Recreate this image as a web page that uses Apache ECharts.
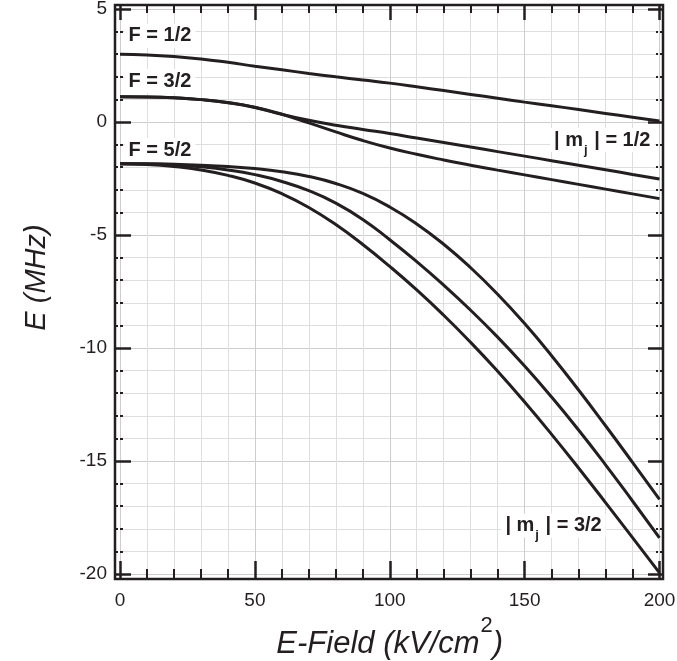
<!DOCTYPE html>
<html><head><meta charset="utf-8">
<script src="https://cdn.jsdelivr.net/npm/echarts@6/dist/echarts.min.js"></script>
<style>html,body{margin:0;padding:0;background:#fff}#c{width:677px;height:661px}</style>
</head><body><div id="c"></div>
<script>
// ---- data ----
const fieldValues = [0,10,20,30,40,50,60,70,80,90,100,110,120,130,140,150,160,170,180,190,200];
const levelF12   = [3.00,2.97,2.90,2.79,2.64,2.47,2.31,2.15,2.00,1.86,1.72,1.56,1.39,1.22,1.05,0.88,0.72,0.55,0.38,0.21,0.04];
const levelF32a  = [1.12,1.11,1.07,0.99,0.85,0.64,0.34,0.08,-0.14,-0.33,-0.51,-0.71,-0.91,-1.11,-1.31,-1.51,-1.71,-1.91,-2.11,-2.32,-2.52];
const levelF32b  = [1.12,1.11,1.07,0.99,0.86,0.65,0.34,-0.04,-0.44,-0.82,-1.15,-1.43,-1.68,-1.91,-2.13,-2.34,-2.55,-2.76,-2.97,-3.18,-3.39];
const levelF52a  = [-1.85,-1.85,-1.87,-1.91,-1.97,-2.06,-2.20,-2.41,-2.72,-3.16,-3.76,-4.51,-5.41,-6.45,-7.62,-8.92,-10.34,-11.86,-13.44,-15.06,-16.70];
const levelF52b  = [-1.85,-1.86,-1.90,-1.98,-2.12,-2.33,-2.63,-3.04,-3.59,-4.31,-5.21,-6.18,-7.22,-8.33,-9.52,-10.80,-12.17,-13.63,-15.17,-16.77,-18.40];
const levelF52c  = [-1.85,-1.88,-1.97,-2.12,-2.36,-2.70,-3.17,-3.78,-4.54,-5.42,-6.39,-7.43,-8.55,-9.75,-11.03,-12.39,-13.82,-15.31,-16.84,-18.39,-19.95];
const xTicks = [0,50,100,150,200];
const yTicks = [-20,-15,-10,-5,0,5];
const annotations = [
  {text:'F = 1/2', x:1.5, y:3.81, side:'right'},
  {text:'F = 3/2', x:1.5, y:1.81, side:'right'},
  {text:'F = 5/2', x:1.5, y:-1.24, side:'right'},
  {text:'| m{sub|j} | = 1/2', x:198.3, y:-0.80, side:'left'},
  {text:'| m{sub|j} | = 3/2', x:141.2, y:-17.85, side:'right'}
];
// ---- chart ----
const INK = '#231f20';
const FONT = '"Liberation Sans", Arial, Helvetica, sans-serif';
const chart = echarts.init(document.getElementById('c'), null, {renderer:'canvas'});
const curves = [levelF12, levelF32a, levelF32b, levelF52a, levelF52b, levelF52c];
const lineSeries = curves.map(vals => ({
  type:'line', xAxisIndex:0, yAxisIndex:0, smooth:true, symbol:'none',
  lineStyle:{color:INK, width:3}, z:5,
  data: fieldValues.map((x,i)=>[x, vals[i]])
}));
const labelRich = {
  sub:{fontSize:13, fontWeight:'bold', fontFamily:FONT, color:INK, verticalAlign:'top', lineHeight:13, padding:[14,1,0,1]}
};
const annSeries = annotations.map(a => ({
  type:'scatter', xAxisIndex:0, yAxisIndex:0, symbol:'circle', symbolSize:1,
  itemStyle:{color:'rgba(0,0,0,0)', opacity:1}, z:10, silent:true,
  data:[[a.x, a.y]],
  label:{show:true, position:a.side, distance:0, formatter:a.text, opacity:1,
    fontSize:20, fontWeight:'bold', fontFamily:FONT, color:INK,
    backgroundColor:'#fff', padding:[2,4], rich:labelRich}
}));
const xMin = xTicks[0], xMax = xTicks[xTicks.length-1], xInt = xTicks[1]-xTicks[0];
const yMin = yTicks[0], yMax = yTicks[yTicks.length-1], yInt = yTicks[1]-yTicks[0];
const tickMajor = w => ({color:INK, width:w});
chart.setOption({
  backgroundColor:'#fff',
  animation:false,
  grid:[
    {left:120, top:9, width:539.5, height:565, outerBoundsMode:'none', containLabel:false},
    {left:115, top:5, right:14, bottom:82, show:true, borderColor:INK, borderWidth:2.5, backgroundColor:'transparent', z:3, outerBoundsMode:'none', containLabel:false}
  ],
  xAxis:[
    {gridIndex:0, type:'value', min:xMin, max:xMax, interval:xInt, position:'bottom', offset:5,
     axisLine:{show:false, onZero:false},
     axisTick:{show:true, inside:true, length:18, lineStyle:tickMajor(2.5)},
     minorTick:{show:true, splitNumber:5, length:10, lineStyle:{color:INK, width:2}},
     axisLabel:{fontSize:19, color:INK, margin:12, fontFamily:FONT},
     splitLine:{show:true, lineStyle:{color:'#cdcdcd', width:1}},
     minorSplitLine:{show:true, lineStyle:{color:'#dedede', width:1}},
     name:'{a|E-Field (kV/cm}{s|2}{a|)}', nameLocation:'middle', nameGap:40,
     nameTextStyle:{rich:{
       a:{fontSize:31, fontStyle:'italic', fontFamily:FONT, color:INK, lineHeight:36, verticalAlign:'bottom'},
       s:{fontSize:22, fontFamily:FONT, color:INK, lineHeight:22, verticalAlign:'bottom', padding:[0,0,23,1]}
     }}
    },
    {gridIndex:0, type:'value', min:xMin, max:xMax, interval:xInt, position:'top', offset:4,
     axisLine:{show:false, onZero:false},
     axisTick:{show:true, inside:true, length:15, lineStyle:tickMajor(2.5)},
     minorTick:{show:true, splitNumber:5, length:8, lineStyle:{color:INK, width:2}},
     axisLabel:{show:false}, splitLine:{show:false}
    },
    {gridIndex:1, type:'value', min:0, max:1, show:false}
  ],
  yAxis:[
    {gridIndex:0, type:'value', min:yMin, max:yMax, interval:yInt, position:'left', offset:5,
     axisLine:{show:false, onZero:false},
     axisTick:{show:true, inside:true, length:16, lineStyle:tickMajor(2.5)},
     minorTick:{show:true, splitNumber:5, length:9, lineStyle:{color:INK, width:2, type:[3,2]}},
     axisLabel:{fontSize:19, color:INK, margin:8, fontFamily:FONT},
     splitLine:{show:true, lineStyle:{color:'#cdcdcd', width:1}},
     minorSplitLine:{show:true, lineStyle:{color:'#dedede', width:1}},
     name:'E (MHz)', nameLocation:'middle', nameGap:64,
     nameTextStyle:{fontSize:29, fontStyle:'italic', fontFamily:FONT, color:INK, padding:[0,0,0,28]}
    },
    {gridIndex:0, type:'value', min:yMin, max:yMax, interval:yInt, position:'right', offset:3.5,
     axisLine:{show:false, onZero:false},
     axisTick:{show:true, inside:true, length:15, lineStyle:tickMajor(2.5)},
     minorTick:{show:true, splitNumber:5, length:7, lineStyle:{color:INK, width:2, type:[3,2]}},
     axisLabel:{show:false}, splitLine:{show:false}
    },
    {gridIndex:1, type:'value', min:0, max:1, show:false}
  ],
  series: lineSeries.concat(annSeries)
});
</script></body></html>
